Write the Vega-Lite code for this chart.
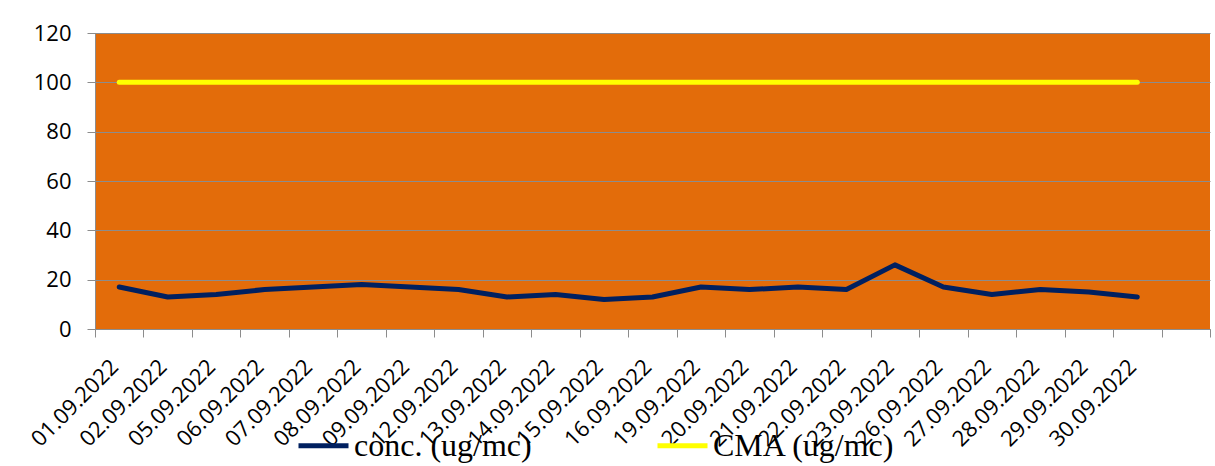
{
  "$schema": "https://vega.github.io/schema/vega-lite/v6.json",
  "width": 1115,
  "height": 296,
  "autosize": {"type": "none"},
  "padding": {"left": 95, "top": 33, "right": 5, "bottom": 137},
  "background": "white",
  "config": {"view": {"stroke": null, "fill": "#E36C0A"}, "font": "Open Sans"},
  "data": {"values": [
    {"date": "01.09.2022", "series": "conc. (ug/mc)", "value": 17},
    {"date": "02.09.2022", "series": "conc. (ug/mc)", "value": 13},
    {"date": "05.09.2022", "series": "conc. (ug/mc)", "value": 14},
    {"date": "06.09.2022", "series": "conc. (ug/mc)", "value": 16},
    {"date": "07.09.2022", "series": "conc. (ug/mc)", "value": 17},
    {"date": "08.09.2022", "series": "conc. (ug/mc)", "value": 18},
    {"date": "09.09.2022", "series": "conc. (ug/mc)", "value": 17},
    {"date": "12.09.2022", "series": "conc. (ug/mc)", "value": 16},
    {"date": "13.09.2022", "series": "conc. (ug/mc)", "value": 13},
    {"date": "14.09.2022", "series": "conc. (ug/mc)", "value": 14},
    {"date": "15.09.2022", "series": "conc. (ug/mc)", "value": 12},
    {"date": "16.09.2022", "series": "conc. (ug/mc)", "value": 13},
    {"date": "19.09.2022", "series": "conc. (ug/mc)", "value": 17},
    {"date": "20.09.2022", "series": "conc. (ug/mc)", "value": 16},
    {"date": "21.09.2022", "series": "conc. (ug/mc)", "value": 17},
    {"date": "22.09.2022", "series": "conc. (ug/mc)", "value": 16},
    {"date": "23.09.2022", "series": "conc. (ug/mc)", "value": 26},
    {"date": "26.09.2022", "series": "conc. (ug/mc)", "value": 17},
    {"date": "27.09.2022", "series": "conc. (ug/mc)", "value": 14},
    {"date": "28.09.2022", "series": "conc. (ug/mc)", "value": 16},
    {"date": "29.09.2022", "series": "conc. (ug/mc)", "value": 15},
    {"date": "30.09.2022", "series": "conc. (ug/mc)", "value": 13},
    {"date": "01.09.2022", "series": "CMA (ug/mc)", "value": 100},
    {"date": "02.09.2022", "series": "CMA (ug/mc)", "value": 100},
    {"date": "05.09.2022", "series": "CMA (ug/mc)", "value": 100},
    {"date": "06.09.2022", "series": "CMA (ug/mc)", "value": 100},
    {"date": "07.09.2022", "series": "CMA (ug/mc)", "value": 100},
    {"date": "08.09.2022", "series": "CMA (ug/mc)", "value": 100},
    {"date": "09.09.2022", "series": "CMA (ug/mc)", "value": 100},
    {"date": "12.09.2022", "series": "CMA (ug/mc)", "value": 100},
    {"date": "13.09.2022", "series": "CMA (ug/mc)", "value": 100},
    {"date": "14.09.2022", "series": "CMA (ug/mc)", "value": 100},
    {"date": "15.09.2022", "series": "CMA (ug/mc)", "value": 100},
    {"date": "16.09.2022", "series": "CMA (ug/mc)", "value": 100},
    {"date": "19.09.2022", "series": "CMA (ug/mc)", "value": 100},
    {"date": "20.09.2022", "series": "CMA (ug/mc)", "value": 100},
    {"date": "21.09.2022", "series": "CMA (ug/mc)", "value": 100},
    {"date": "22.09.2022", "series": "CMA (ug/mc)", "value": 100},
    {"date": "23.09.2022", "series": "CMA (ug/mc)", "value": 100},
    {"date": "26.09.2022", "series": "CMA (ug/mc)", "value": 100},
    {"date": "27.09.2022", "series": "CMA (ug/mc)", "value": 100},
    {"date": "28.09.2022", "series": "CMA (ug/mc)", "value": 100},
    {"date": "29.09.2022", "series": "CMA (ug/mc)", "value": 100},
    {"date": "30.09.2022", "series": "CMA (ug/mc)", "value": 100}
  ]},
  "mark": {"type": "line", "strokeWidth": 5, "strokeCap": "round", "strokeJoin": "round"},
  "encoding": {
    "x": {
      "field": "date",
      "type": "ordinal",
      "sort": null,
      "scale": {
        "type": "band",
        "paddingInner": 0,
        "paddingOuter": 0,
        "domain": ["01.09.2022","02.09.2022","05.09.2022","06.09.2022","07.09.2022","08.09.2022","09.09.2022","12.09.2022","13.09.2022","14.09.2022","15.09.2022","16.09.2022","19.09.2022","20.09.2022","21.09.2022","22.09.2022","23.09.2022","26.09.2022","27.09.2022","28.09.2022","29.09.2022","30.09.2022"," "]
      },
      "axis": {
        "title": null,
        "labelAngle": -45,
        "labelAlign": "right",
        "labelBaseline": "middle",
        "labelFontSize": 22,
        "labelColor": "black",
        "labelOverlap": false,
        "labelBound": false,
        "labelPadding": 26,
        "labelOffset": -5,
        "tickBand": "extent",
        "tickColor": "#8C8C8C",
        "tickSize": 8,
        "domainColor": "#8C8C8C",
        "grid": false
      }
    },
    "y": {
      "field": "value",
      "type": "quantitative",
      "scale": {"domain": [0, 120], "nice": false},
      "axis": {
        "title": null,
        "values": [0, 20, 40, 60, 80, 100, 120],
        "labelFontSize": 22,
        "labelColor": "black",
        "labelPadding": 16,
        "tickSize": 8,
        "tickColor": "#8C8C8C",
        "domainColor": "#8C8C8C",
        "grid": true,
        "gridColor": "#8C8C8C"
      }
    },
    "color": {
      "field": "series",
      "type": "nominal",
      "scale": {"domain": ["conc. (ug/mc)", "CMA (ug/mc)"], "range": ["#002060", "#FFFF00"]},
      "legend": {
        "title": null,
        "orient": "none",
        "legendX": 201,
        "legendY": 385,
        "direction": "horizontal",
        "symbolType": "stroke",
        "symbolStrokeWidth": 5,
        "symbolSize": 2500,
        "labelFont": "Liberation Serif",
        "labelFontSize": 32,
        "labelColor": "black",
        "labelLimit": 400,
        "labelOffset": 3,
        "columnPadding": 115,
        "padding": 0
      }
    }
  }
}
